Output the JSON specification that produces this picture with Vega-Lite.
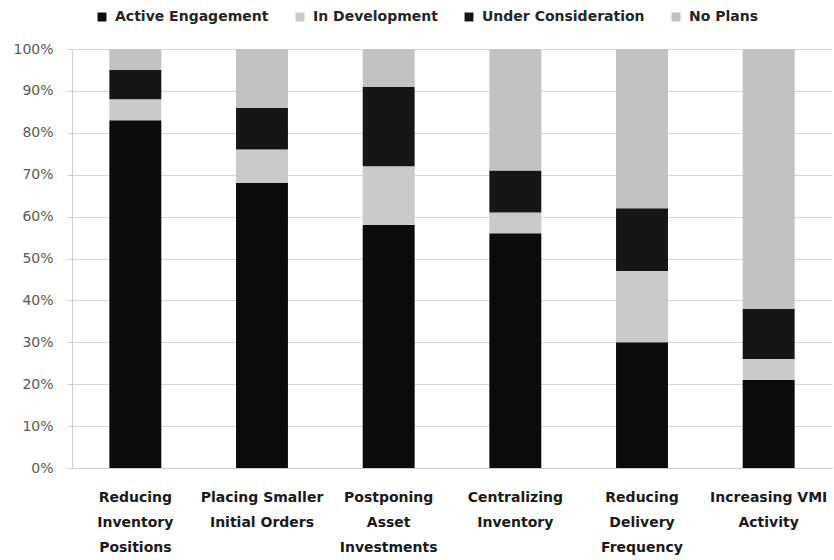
{
  "$schema": "https://vega.github.io/schema/vega-lite/v6.json",
  "width": 760,
  "height": 419,
  "autosize": {"type": "none"},
  "padding": {"left": 72, "top": 49, "right": 2, "bottom": 92},
  "background": "white",
  "config": {"view": {"stroke": null}, "font": "DejaVu Sans"},
  "data": {
    "values": [
      {"initiative": "Reducing Inventory Positions", "status": "Active Engagement", "rank": 1, "pct": 83},
      {"initiative": "Reducing Inventory Positions", "status": "In Development", "rank": 2, "pct": 5},
      {"initiative": "Reducing Inventory Positions", "status": "Under Consideration", "rank": 3, "pct": 7},
      {"initiative": "Reducing Inventory Positions", "status": "No Plans", "rank": 4, "pct": 5},
      {"initiative": "Placing Smaller Initial Orders", "status": "Active Engagement", "rank": 1, "pct": 68},
      {"initiative": "Placing Smaller Initial Orders", "status": "In Development", "rank": 2, "pct": 8},
      {"initiative": "Placing Smaller Initial Orders", "status": "Under Consideration", "rank": 3, "pct": 10},
      {"initiative": "Placing Smaller Initial Orders", "status": "No Plans", "rank": 4, "pct": 14},
      {"initiative": "Postponing Asset Investments", "status": "Active Engagement", "rank": 1, "pct": 58},
      {"initiative": "Postponing Asset Investments", "status": "In Development", "rank": 2, "pct": 14},
      {"initiative": "Postponing Asset Investments", "status": "Under Consideration", "rank": 3, "pct": 19},
      {"initiative": "Postponing Asset Investments", "status": "No Plans", "rank": 4, "pct": 9},
      {"initiative": "Centralizing Inventory", "status": "Active Engagement", "rank": 1, "pct": 56},
      {"initiative": "Centralizing Inventory", "status": "In Development", "rank": 2, "pct": 5},
      {"initiative": "Centralizing Inventory", "status": "Under Consideration", "rank": 3, "pct": 10},
      {"initiative": "Centralizing Inventory", "status": "No Plans", "rank": 4, "pct": 29},
      {"initiative": "Reducing Delivery Frequency", "status": "Active Engagement", "rank": 1, "pct": 30},
      {"initiative": "Reducing Delivery Frequency", "status": "In Development", "rank": 2, "pct": 17},
      {"initiative": "Reducing Delivery Frequency", "status": "Under Consideration", "rank": 3, "pct": 15},
      {"initiative": "Reducing Delivery Frequency", "status": "No Plans", "rank": 4, "pct": 38},
      {"initiative": "Increasing VMI Activity", "status": "Active Engagement", "rank": 1, "pct": 21},
      {"initiative": "Increasing VMI Activity", "status": "In Development", "rank": 2, "pct": 5},
      {"initiative": "Increasing VMI Activity", "status": "Under Consideration", "rank": 3, "pct": 12},
      {"initiative": "Increasing VMI Activity", "status": "No Plans", "rank": 4, "pct": 62}
    ]
  },
  "mark": {"type": "bar"},
  "encoding": {
    "x": {
      "field": "initiative",
      "type": "nominal",
      "sort": null,
      "scale": {"paddingInner": 0.59, "paddingOuter": 0.295},
      "axis": {
        "title": null,
        "labelAngle": 0,
        "labelFont": "DejaVu Sans",
        "labelFontWeight": "bold",
        "labelFontSize": 14,
        "labelColor": "#1a1a1a",
        "labelPadding": 22,
        "labelLineHeight": 25,
        "labelBaseline": "top",
        "labelLimit": 200,
        "ticks": false,
        "domainColor": "#d0d0d0",
        "labelExpr": "datum.label == 'Reducing Inventory Positions' ? ['Reducing', 'Inventory', 'Positions'] : datum.label == 'Placing Smaller Initial Orders' ? ['Placing Smaller', 'Initial Orders'] : datum.label == 'Postponing Asset Investments' ? ['Postponing', 'Asset', 'Investments'] : datum.label == 'Centralizing Inventory' ? ['Centralizing', 'Inventory'] : datum.label == 'Reducing Delivery Frequency' ? ['Reducing', 'Delivery', 'Frequency'] : ['Increasing VMI', 'Activity']"
      }
    },
    "y": {
      "field": "pct",
      "type": "quantitative",
      "stack": "normalize",
      "scale": {"domain": [0, 1], "nice": false},
      "axis": {
        "title": null,
        "format": ".0%",
        "values": [0, 0.1, 0.2, 0.3, 0.4, 0.5, 0.6, 0.7, 0.8, 0.9, 1],
        "labelFontSize": 14,
        "labelColor": "#595959",
        "labelFont": "DejaVu Sans",
        "labelPadding": 14,
        "tickSize": 5,
        "tickColor": "#d0d0d0",
        "domainColor": "#d0d0d0",
        "gridColor": "#d9d9d9"
      }
    },
    "color": {
      "field": "status",
      "type": "nominal",
      "scale": {
        "domain": ["Active Engagement", "In Development", "Under Consideration", "No Plans"],
        "range": ["#0b0b0b", "#cacaca", "#161616", "#c2c2c2"]
      },
      "legend": {
        "title": null,
        "orient": "none",
        "direction": "horizontal",
        "legendX": 23,
        "legendY": -39,
        "symbolType": "square",
        "symbolSize": 80,
        "symbolStrokeWidth": 0,
        "labelFont": "DejaVu Sans",
        "labelFontWeight": "bold",
        "labelFontSize": 14,
        "labelColor": "#262626",
        "labelOffset": 6,
        "labelLimit": 300,
        "columnPadding": 24
      }
    },
    "order": {"field": "rank", "type": "quantitative", "sort": "ascending"}
  }
}
